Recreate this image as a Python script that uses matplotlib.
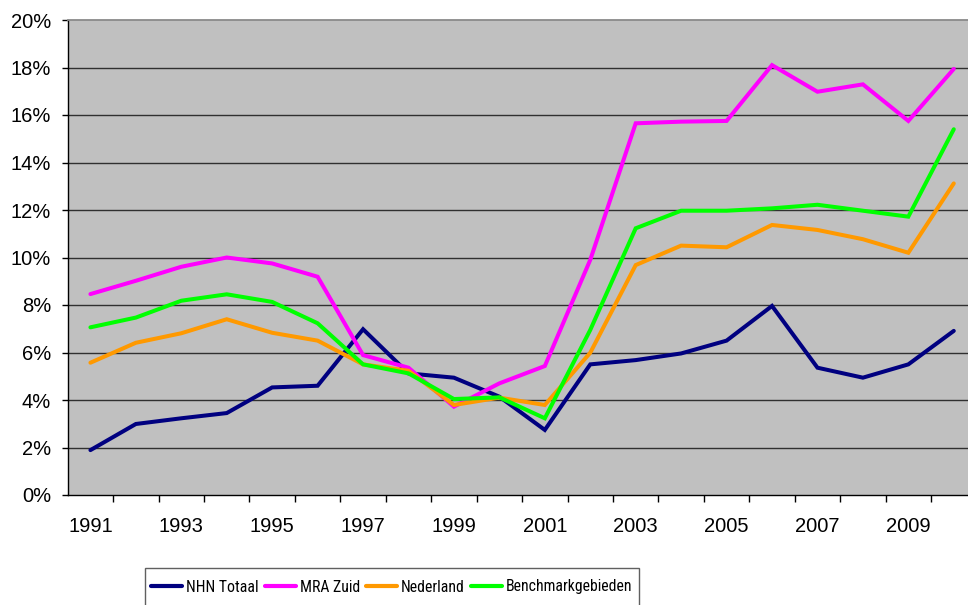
import matplotlib
matplotlib.use("Agg")
import matplotlib.pyplot as plt
from matplotlib import font_manager
from matplotlib.font_manager import FontProperties
from matplotlib.patches import Rectangle
from matplotlib.ticker import FixedLocator, FuncFormatter

years = list(range(1991, 2011))

nhn_totaal = [1.89, 2.99, 3.23, 3.45, 4.53, 4.60, 6.98, 5.12, 4.94, 4.14,
              2.74, 5.50, 5.68, 5.96, 6.50, 7.96, 5.36, 4.94, 5.50, 6.91]
mra_zuid = [8.46, 9.02, 9.61, 10.00, 9.75, 9.19, 5.89, 5.36, 3.72, 4.70,
            5.43, 9.90, 15.65, 15.72, 15.75, 18.10, 16.98, 17.29, 15.75, 17.94]
nederland = [5.57, 6.41, 6.81, 7.40, 6.83, 6.50, 5.50, 5.23, 3.79, 4.10,
             3.79, 5.99, 9.68, 10.50, 10.43, 11.37, 11.16, 10.77, 10.20, 13.12]
benchmark = [7.06, 7.47, 8.18, 8.45, 8.13, 7.23, 5.50, 5.12, 4.04, 4.11,
             3.23, 6.95, 11.23, 11.97, 11.97, 12.07, 12.22, 11.97, 11.72, 15.40]

series = [
    ("NHN Totaal", nhn_totaal, "#000080"),
    ("MRA Zuid", mra_zuid, "#FF00FF"),
    ("Nederland", nederland, "#FF9900"),
    ("Benchmarkgebieden", benchmark, "#00FF00"),
]

plt.rcParams["font.family"] = ["Liberation Sans", "DejaVu Sans"]


def narrow_font_file():
    """Return the file of an installed upright, regular-weight condensed sans face."""
    preferred = ["Liberation Sans Narrow", "Roboto Condensed", "Open Sans",
                 "Noto Sans", "Roboto", "Inter"]
    found = []
    for f in font_manager.fontManager.ttflist:
        fname = f.fname.lower()
        stretch = str(f.stretch).lower()
        is_narrow = ("narrow" in f.name.lower() or "condensed" in f.name.lower()
                     or "condensed" in stretch or "condensed" in fname
                     or "narrow" in fname)
        if not is_narrow:
            continue
        if f.style != "normal" or "italic" in fname or "oblique" in fname:
            continue
        if str(f.weight) not in ("400", "normal", "regular"):
            continue
        if any(k in fname for k in ("bold", "light", "thin", "medium", "black",
                                    "semibold", "extra")):
            continue
        semi = 0.5 if "semicondensed" in fname.replace("-", "").replace("_", "") else 0
        rank = next((i for i, p in enumerate(preferred) if f.name.startswith(p)), 99)
        found.append((rank + semi, f.fname))
    found.sort()
    return found[0][1] if found else None


W, H = 968, 605
fig = plt.figure(figsize=(W / 100, H / 100), dpi=100)

left_px, top_px, bottom_px = 67.7, 20.0, 495.0
cat_w = 45.44
ax = fig.add_axes([left_px / W, 1 - bottom_px / H,
                   cat_w * len(years) / W, (bottom_px - top_px) / H])
ax.set_facecolor("#C0C0C0")

x = list(range(len(years)))
for name, vals, col in series:
    ax.plot(x, vals, color=col, lw=2.9, label=name, solid_capstyle="round",
            solid_joinstyle="miter", zorder=3)

ax.set_xlim(-0.5, len(years) - 0.5)
ax.set_ylim(0, 20)

# horizontal gridlines
for v in range(2, 20, 2):
    ax.axhline(v, color="#303030", lw=1.0, zorder=1)

ax.spines["right"].set_visible(False)
ax.spines["top"].set_color("#8A8A8A")
ax.spines["top"].set_linewidth(1.3)
for s in ("left", "bottom"):
    ax.spines[s].set_color("black")
    ax.spines[s].set_linewidth(1.0)

ax.yaxis.set_major_locator(FixedLocator(range(0, 21, 2)))
ax.yaxis.set_major_formatter(FuncFormatter(lambda v, p: f"{int(round(v))}%"))
ax.tick_params(axis="y", direction="out", length=4, width=1, pad=8,
               labelsize=14.5, colors="black")

label_pos = [i for i in x if i % 2 == 0]
ax.set_xticks(label_pos)
ax.set_xticklabels([str(years[i]) for i in label_pos])
ax.set_xticks([i + 0.5 for i in x], minor=True)
ax.tick_params(axis="x", which="major", length=0, pad=16, labelsize=14.5)
ax.tick_params(axis="x", which="minor", direction="out", length=5, width=1)

# legend frame, running off the lower edge of the figure
box_l, box_r, box_t = 145, 639, 568
fig.patches.append(Rectangle((box_l / W, -0.05), (box_r - box_l) / W,
                             1 - box_t / H + 0.05, transform=fig.transFigure,
                             facecolor="white", edgecolor="#606060", lw=1.0,
                             zorder=0))

handles, labels = ax.get_legend_handles_labels()
nf = narrow_font_file()


def make_legend(size):
    em = size * 100 / 72
    if nf:
        prop = FontProperties(fname=nf, size=size)
    else:
        prop = FontProperties(family=["Liberation Sans", "DejaVu Sans"], size=size)
    leg = fig.legend(handles, labels, loc="center",
                     bbox_to_anchor=((box_l + box_r) / 2 / W, 1 - 587 / H),
                     ncol=4, frameon=False, prop=prop,
                     handlelength=31 / em, handletextpad=4 / em,
                     columnspacing=6 / em, borderpad=0, borderaxespad=0)
    for lh in leg.get_lines():
        lh.set_linewidth(3.0)
    return leg


# size the legend text so the entries fill the frame
target_w = box_r - box_l - 14
size = 12.0
leg = make_legend(size)
for _ in range(4):
    fig.canvas.draw()
    w = leg.get_window_extent().width
    fixed = 4 * 31 + 4 * 4 + 3 * 6
    size = size * (target_w - fixed) / (w - fixed)
    leg.remove()
    leg = make_legend(size)

fig.savefig("out.png", dpi=100)
